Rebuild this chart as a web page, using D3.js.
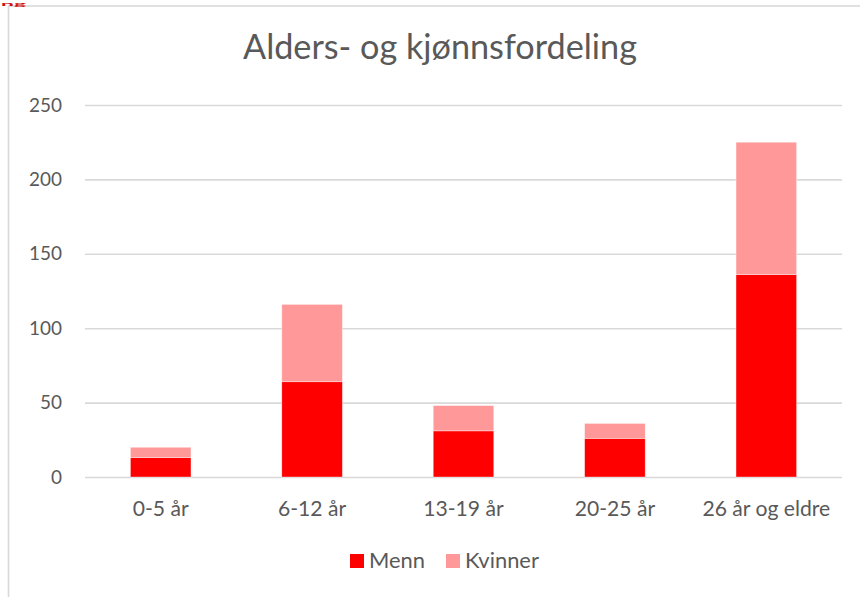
<!DOCTYPE html>
<html>
<head>
<meta charset="utf-8">
<script src="https://cdn.jsdelivr.net/npm/d3@7/dist/d3.min.js"></script>
<style>
  html, body { margin: 0; padding: 0; background: #fff; }
  svg { display: block; }
  text { font-family: Lato, "Open Sans", sans-serif; }
</style>
</head>
<body>
<svg id="chart" width="860" height="597"></svg>
<script>
const title = "Alders- og kjønnsfordeling";
const categories = ["0-5 år", "6-12 år", "13-19 år", "20-25 år", "26 år og eldre"];
const seriesNames = ["Menn", "Kvinner"];
const menn = [13, 64, 31, 26, 136];
const kvinner = [7, 52, 17, 10, 89];
const yTicks = [0, 50, 100, 150, 200, 250];
const colors = ["#FF0000", "#FF9999"];

const W = 860, H = 597;
const svg = d3.select("#chart");

// chart area
svg.append("rect").attr("x", 8.5).attr("y", 6).attr("width", W).attr("height", H)
  .attr("fill", "#fff").attr("stroke", "#D9D9D9").attr("stroke-width", 1.6);

// fragment of a heading above the chart
svg.append("text").attr("x", 1).attr("y", 6)
  .attr("font-size", 5.5).attr("font-weight", "bold").attr("fill", "#D01010")
  .attr("textLength", 25).attr("lengthAdjust", "spacingAndGlyphs")
  .text("ng");

const plot = { left: 85, right: 842, top: 105, bottom: 477 };

const x = d3.scaleBand().domain(categories)
  .range([plot.left, plot.right]).paddingInner(0.6).paddingOuter(0.3);
const y = d3.scaleLinear().domain([0, 250]).range([plot.bottom, plot.top]);

function fit(sel, target) {
  const w = sel.node().getComputedTextLength();
  const fs = parseFloat(sel.attr("font-size"));
  sel.attr("font-size", fs * target / w);
}

// gridlines + y labels
const yAxis = d3.axisLeft(y).tickValues(yTicks).tickSize(-(plot.right - plot.left)).tickPadding(23);
const gy = svg.append("g").attr("transform", `translate(${plot.left},0)`).call(yAxis);
gy.select(".domain").remove();
gy.selectAll(".tick line").attr("stroke", "#D9D9D9").attr("stroke-width", 1.6);
gy.selectAll(".tick text").attr("fill", "#595959").attr("font-size", 20)
  .attr("font-family", "Lato, sans-serif");
const fsY = (() => { const t = gy.selectAll(".tick text").filter(d => d === 250); const s = t.node().getComputedTextLength(); return 20 * 33 / s; })();
gy.selectAll(".tick text").attr("font-size", fsY);

// stacked bars
const rows = categories.map((c, i) => ({ cat: c, Menn: menn[i], Kvinner: kvinner[i] }));
const stacked = d3.stack().keys(seriesNames)(rows);
svg.append("g").selectAll("g").data(stacked).join("g")
  .attr("fill", (d, i) => colors[i])
  .selectAll("rect").data(d => d).join("rect")
  .attr("x", d => x(d.data.cat))
  .attr("y", d => y(d[1]))
  .attr("width", x.bandwidth())
  .attr("height", d => y(d[0]) - y(d[1]))
  .attr("stroke", "#fff").attr("stroke-width", 0.6).attr("stroke-opacity", 0.6);

// x axis labels
const xAxis = d3.axisBottom(x).tickSize(0).tickPadding(23);
const gx = svg.append("g").attr("transform", `translate(0,${plot.bottom})`).call(xAxis);
gx.select(".domain").remove();
gx.selectAll(".tick text").attr("fill", "#595959").attr("font-size", 20)
  .attr("font-family", "Lato, sans-serif");
const fsX = (() => { const t = gx.selectAll(".tick text").filter(d => d === categories[0]); return 20 * 56 / t.node().getComputedTextLength(); })();
gx.selectAll(".tick text").attr("font-size", fsX).attr("dy", 0).attr("y", 39);

// title
const tt = svg.append("text").attr("x", 440).attr("y", 59).attr("text-anchor", "middle")
  .attr("font-size", 30).attr("fill", "#595959").text(title);
fit(tt, 394);

// legend
const legX = [350, 446];
const lg = svg.append("g");
seriesNames.forEach((s, i) => {
  lg.append("rect").attr("x", legX[i]).attr("y", 554).attr("width", 14).attr("height", 14).attr("fill", colors[i]);
  const t = lg.append("text").attr("x", legX[i] + 19).attr("y", 568).attr("font-size", 20)
    .attr("fill", "#595959").text(s);
  if (i === 0) fit(t, 56);
});
lg.selectAll("text").attr("font-size", lg.select("text").attr("font-size"));
</script>
</body>
</html>
